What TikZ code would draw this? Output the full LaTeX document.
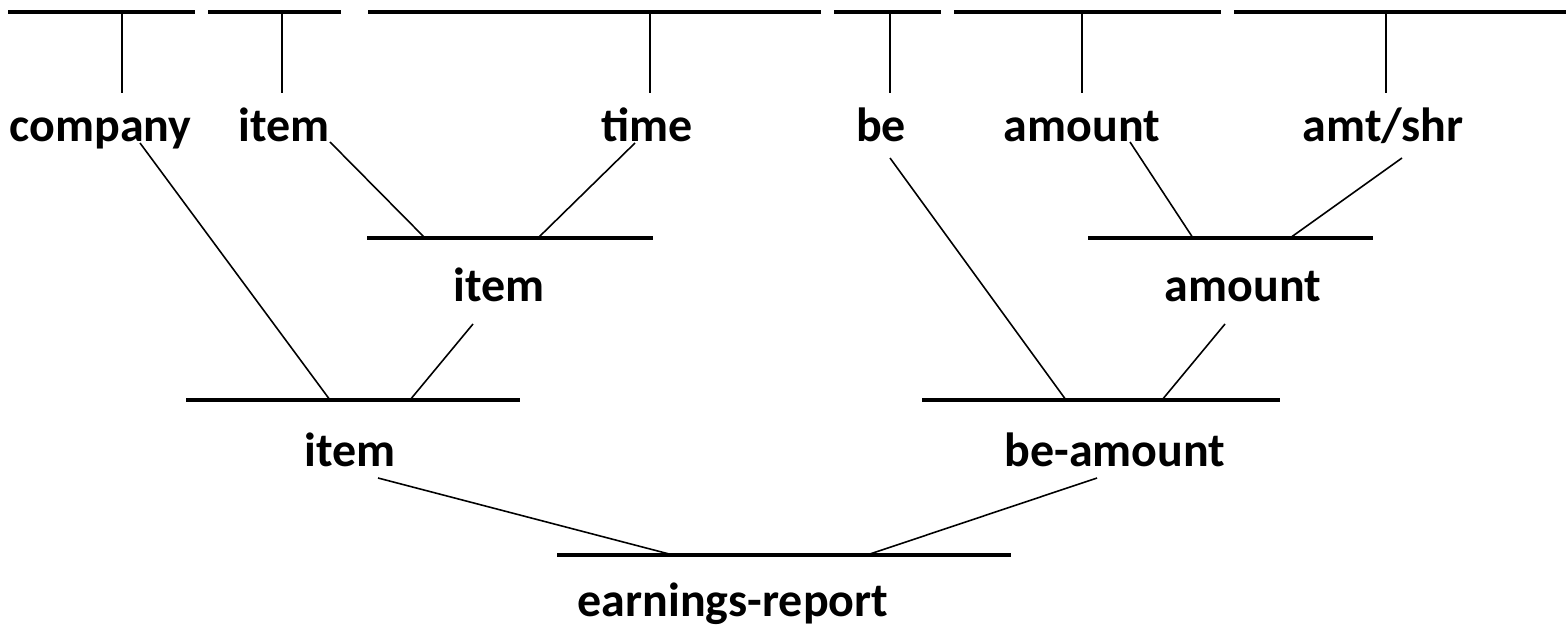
\documentclass[tikz,border=0pt]{standalone}
\usepackage{fontspec}
\setmainfont{Carlito}
\usetikzlibrary{positioning}

\begin{document}
\begin{tikzpicture}[
    x=0.02cm, y=-0.02cm,
    word/.style={anchor=base, inner sep=0pt, font=\fontsize{27.3}{31}\selectfont\bfseries},
    spanline/.style={line width=2.1pt},
    stem/.style={line width=1.2pt},
    link/.style={line width=0.9pt},
    bar/.style={line width=2.3pt}
  ]
  \useasboundingbox (0,0) rectangle (1566,631);

  % Words of the sentence
  \node[word] (company) at (100.5,142) {company};
  \node[word] (item) at (284,142) {item};
  \node[word] (time) at (647,142) {time};
  \node[word] (be) at (881,142) {be};
  \node[word] (amount) at (1082,142) {amount};
  \node[word] (amtshr) at (1383,142) {amt/shr};

  % Spans over the text
  \coordinate (s1a) at (8,12);    \coordinate (s1b) at (195,12);
  \coordinate (s2a) at (208,12);  \coordinate (s2b) at (341,12);
  \coordinate (s3a) at (368,12);  \coordinate (s3b) at (821,12);
  \coordinate (s4a) at (834,12);  \coordinate (s4b) at (941,12);
  \coordinate (s5a) at (954,12);  \coordinate (s5b) at (1221,12);
  \coordinate (s6a) at (1234,12); \coordinate (s6b) at (1566,12);
  \draw[spanline] (s1a) -- (s1b);
  \draw[spanline] (s2a) -- (s2b);
  \draw[spanline] (s3a) -- (s3b);
  \draw[spanline] (s4a) -- (s4b);
  \draw[spanline] (s5a) -- (s5b);
  \draw[spanline] (s6a) -- (s6b);

  % Stems from spans down to the words
  \coordinate (c1) at (122,12);  \coordinate (w1) at (122,93);
  \coordinate (c2) at (282,12);  \coordinate (w2) at (282,93);
  \coordinate (c3) at (650,12);  \coordinate (w3) at (650,93);
  \coordinate (c4) at (890,12);  \coordinate (w4) at (890,93);
  \coordinate (c5) at (1082,12); \coordinate (w5) at (1082,93);
  \coordinate (c6) at (1386,12); \coordinate (w6) at (1386,93);
  \draw[stem] (c1) -- (w1);
  \draw[stem] (c2) -- (w2);
  \draw[stem] (c3) -- (w3);
  \draw[stem] (c4) -- (w4);
  \draw[stem] (c5) -- (w5);
  \draw[stem] (c6) -- (w6);

  % First level
  \coordinate (b1a) at (367,238);  \coordinate (b1b) at (653,238);
  \coordinate (b2a) at (1088,238); \coordinate (b2b) at (1373,238);
  \draw[bar] (b1a) -- (b1b);
  \draw[bar] (b2a) -- (b2b);
  \node[word] (itemA) at (499,302) {item};
  \node[word] (amountA) at (1243,302) {amount};

  % Second level
  \coordinate (b3a) at (186,400); \coordinate (b3b) at (520,400);
  \coordinate (b4a) at (922,400); \coordinate (b4b) at (1280,400);
  \draw[bar] (b3a) -- (b3b);
  \draw[bar] (b4a) -- (b4b);
  \node[word] (itemB) at (350,467) {item};
  \node[word] (beamount) at (1115,467) {be-amount};

  % Top level
  \coordinate (b5a) at (557,555); \coordinate (b5b) at (1011,555);
  \draw[bar] (b5a) -- (b5b);
  \node[word] (report) at (733,616) {earnings-report};

  % Feet of the words and joins on the bars
  \coordinate (companyF) at (140,143);  \coordinate (j3a) at (330,400);
  \coordinate (itemF) at (330,142);     \coordinate (j1a) at (425,238);
  \coordinate (timeF) at (635,143);     \coordinate (j1b) at (538,238);
  \coordinate (beF) at (890,158);       \coordinate (j4a) at (1066,400);
  \coordinate (amountF) at (1130,142);  \coordinate (j2a) at (1193,238);
  \coordinate (amtshrF) at (1402,158);  \coordinate (j2b) at (1290,238);
  \coordinate (itemAF) at (473,324);    \coordinate (j3b) at (410,400);
  \coordinate (amountAF) at (1225,324); \coordinate (j4b) at (1162,400);
  \coordinate (itemBF) at (378,478);    \coordinate (j5a) at (673,555);
  \coordinate (beamountF) at (1097,478); \coordinate (j5b) at (867,555);

  % Links
  \draw[link] (companyF) -- (j3a);
  \draw[link] (itemF) -- (j1a);
  \draw[link] (timeF) -- (j1b);
  \draw[link] (beF) -- (j4a);
  \draw[link] (amountF) -- (j2a);
  \draw[link] (amtshrF) -- (j2b);
  \draw[link] (itemAF) -- (j3b);
  \draw[link] (amountAF) -- (j4b);
  \draw[link] (itemBF) -- (j5a);
  \draw[link] (beamountF) -- (j5b);

\end{tikzpicture}
\end{document}
